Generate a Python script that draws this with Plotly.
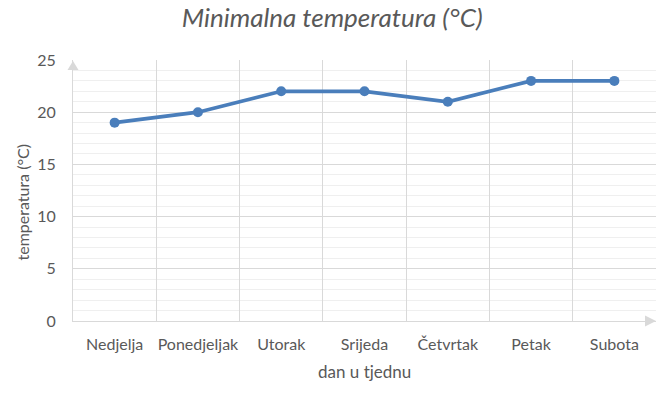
import plotly.graph_objects as go

days = ["Nedjelja", "Ponedjeljak", "Utorak", "Srijeda", "Četvrtak", "Petak", "Subota"]
min_temp = [19, 20, 22, 22, 21, 23, 23]

title_text = "Minimalna temperatura (°C)"
x_title = "dan u tjednu"
y_title = "temperatura (°C)"

FONT = "Lato"
TXT = "#595959"
BLUE = "#4a7ebb"

fig = go.Figure(go.Scatter(
    x=days, y=min_temp, mode="lines+markers",
    line=dict(color=BLUE, width=3.7),
    marker=dict(color=BLUE, size=10),
    hoverinfo="x+y",
))

fig.update_layout(
    width=663, height=385,
    margin=dict(l=65, r=15, t=52, b=72),
    paper_bgcolor="white", plot_bgcolor="white",
    showlegend=False,
    title=dict(text=title_text, x=0.489, xanchor="center", y=0.999, yanchor="top",
               font=dict(family=FONT, size=26, color=TXT, style="italic")),
    font=dict(family=FONT, size=16, color=TXT),
    xaxis=dict(
        type="category", tickson="boundaries",
        showgrid=True, gridcolor="#d9d9d9", gridwidth=1,
        showline=True, linecolor="#d9d9d9", linewidth=1,
        ticks="", ticklabelstandoff=9, automargin=False, tickangle=0,
        tickfont=dict(family=FONT, size=16, color=TXT),
        range=[-0.5, 6.5], zeroline=False, fixedrange=True,
    ),
    yaxis=dict(
        range=[0, 25], dtick=5, tick0=0,
        showgrid=True, gridcolor="#d9d9d9", gridwidth=1,
        minor=dict(dtick=1, showgrid=True, gridcolor="#efefef", gridwidth=1),
        showline=True, linecolor="#d9d9d9", linewidth=1,
        ticks="", ticklabelstandoff=13, automargin=False,
        tickfont=dict(family=FONT, size=16, color=TXT),
        zeroline=False, fixedrange=True,
    ),
    annotations=[
        dict(text=x_title, xref="paper", yref="paper", x=0.5, y=0,
             xanchor="center", yanchor="middle", yshift=-50, showarrow=False,
             font=dict(family=FONT, size=17, color=TXT)),
        dict(text=y_title, xref="paper", yref="paper", x=0, y=0.5,
             xanchor="center", yanchor="middle", xshift=-51, yshift=-12, textangle=-90,
             showarrow=False, font=dict(family=FONT, size=16, color=TXT)),
    ],
    shapes=[
        dict(type="path", xref="paper", yref="paper", xanchor=0, yanchor=1,
             xsizemode="pixel", ysizemode="pixel",
             path="M -5.5,-10 L 5.5,-10 L 0,-1 Z",
             fillcolor="#d9d9d9", line=dict(width=0)),
        dict(type="path", xref="paper", yref="paper", xanchor=1, yanchor=0,
             xsizemode="pixel", ysizemode="pixel",
             path="M -11,5.5 L -11,-5.5 L 0,0 Z",
             fillcolor="#d9d9d9", line=dict(width=0)),
    ],
)

fig.write_html("out.html")
